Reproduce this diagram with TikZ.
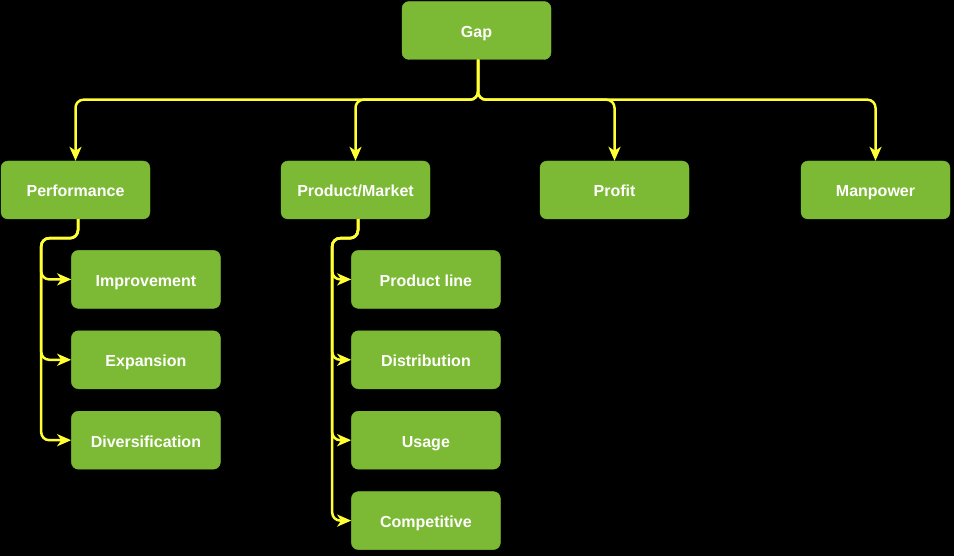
\documentclass[tikz,border=0pt]{standalone}
\usepackage{fontspec}
\setmainfont{Liberation Sans}
\usetikzlibrary{arrows.meta, positioning}
\definecolor{leaf}{RGB}{124,185,52}
\definecolor{wire}{RGB}{255,255,51}
\tikzstyle{block} = [rectangle, rounded corners=7pt, minimum width=149pt, minimum height=58pt,
    text centered, text height=14pt, text depth=0pt,
    draw=leaf, fill=leaf, text=white, font=\bfseries\fontsize{16}{19}\selectfont]
\tikzstyle{link} = [wire, line width=2.5pt, rounded corners=8pt,
    -{Stealth[length=14pt,width=12pt,inset=4pt]}]

\begin{document}
\begin{tikzpicture}[x=1pt, y=-1pt, node distance=22pt]
  \fill[black] (0,0) rectangle (954,556);

  \node (gap)    [block] at (476.5,30.5) {Gap};
  \node (perf)   [block] at (75.5,190)   {Performance};
  \node (prod)   [block] at (355.5,190)  {Product/Market};
  \node (profit) [block] at (614.5,190)  {Profit};
  \node (man)    [block] at (875.5,190)  {Manpower};

  \node (impr)   [block, below right=31pt and -79pt of perf] {Improvement};
  \node (exp)    [block, below=of impr] {Expansion};
  \node (div)    [block, below=of exp]  {Diversification};

  \node (line)   [block, below right=31pt and -79pt of prod] {Product line};
  \node (dist)   [block, below=of line] {Distribution};
  \node (usage)  [block, below=of dist] {Usage};
  \node (comp)   [block, below=of usage] {Competitive};

  \foreach \t in {perf,prod,profit,man}
    \draw[link] ([xshift=1.5pt]gap.south) -- ++(0,40) -| (\t.north);

  \foreach \c in {impr,exp,div}
    \draw[link] ([xshift=2.5pt]perf.south) -- ++(0,19) -| ([xshift=-30pt]\c.west) -- (\c.west);

  \foreach \c in {line,dist,usage,comp}
    \draw[link] ([xshift=2.5pt]prod.south) -- ++(0,19) -| ([xshift=-19pt]\c.west) -- (\c.west);
\end{tikzpicture}
\end{document}
